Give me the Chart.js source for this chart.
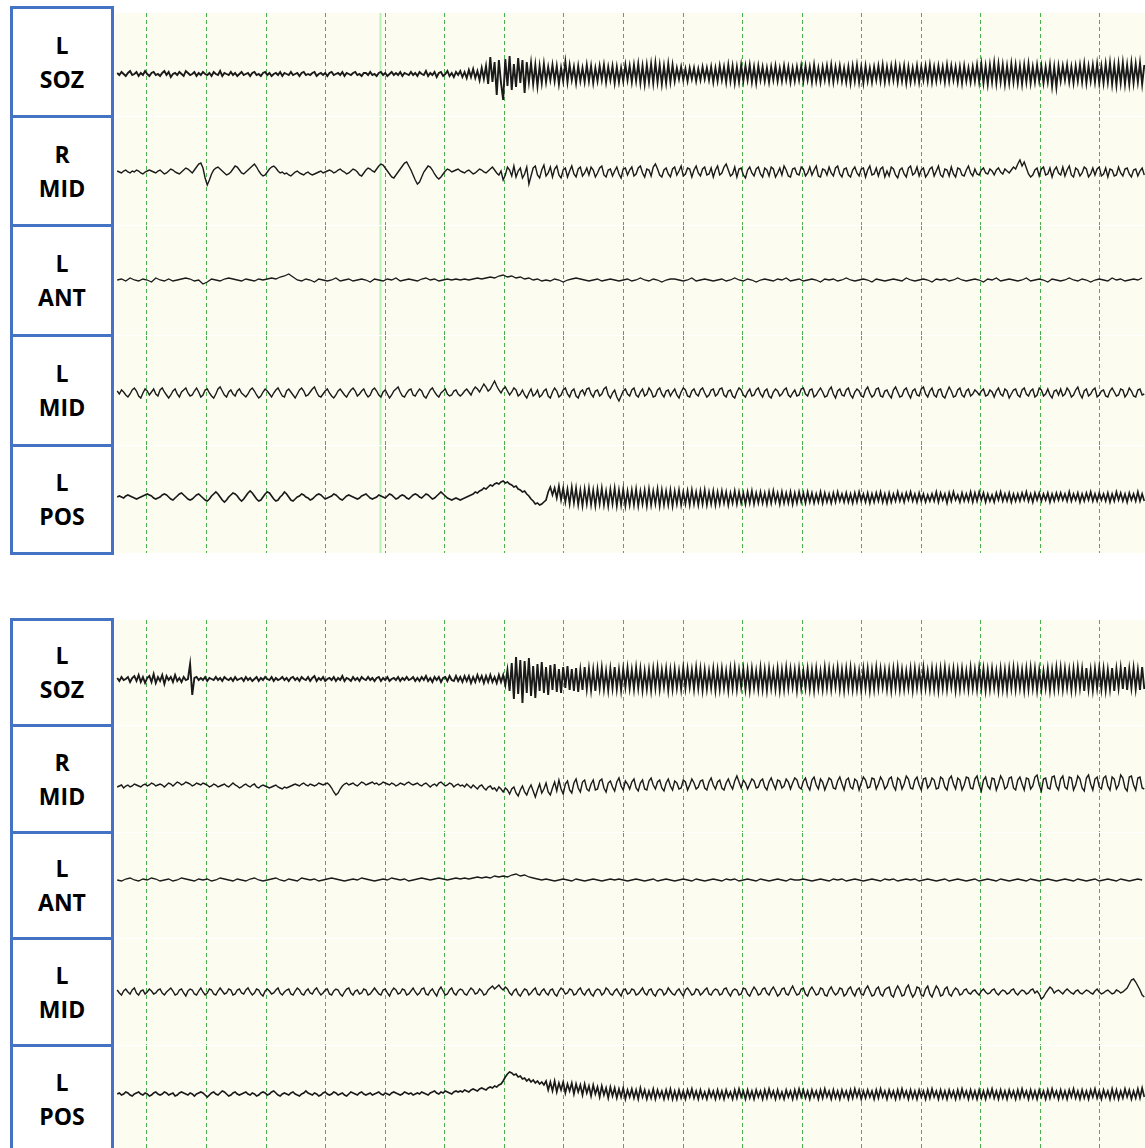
<!DOCTYPE html>
<html>
<head>
<meta charset="utf-8">
<script src="https://cdn.jsdelivr.net/npm/chart.js@4.4.1/dist/chart.umd.min.js"></script>
<style>
  body { margin: 0; background: #fff; width: 1145px; height: 1148px; overflow: hidden; position: relative; font-family: "Open Sans", sans-serif; }
  .cell { position: absolute; left: 10px; width: 104px; box-sizing: border-box; border: 3px solid #4472c4; background: #fff;
          display: flex; flex-direction: column; align-items: center; justify-content: center;
          font-weight: 700; font-size: 23px; line-height: 34px; color: #000; }
  canvas.trace { position: absolute; left: 115px; background: #fcfcf1; }
</style>
</head>
<body>
<script>
// channel names, same order in both recordings
const channels = [['L', 'SOZ'], ['R', 'MID'], ['L', 'ANT'], ['L', 'MID'], ['L', 'POS']];
const TRACE_WIDTHS = [1.9, 1.4, 1.3, 1.4, 1.7]; // pen width per channel row

// time axis (seconds), one dashed line per second
const X_MIN = 0.463;
const X_MAX = 17.756;
const GRID_SECONDS = [1, 2, 3, 4, 5, 6, 7, 8, 9, 10, 11, 12, 13, 14, 15, 16, 17];
const T_START = 0.5;
const T_SPAN = 17.28;     // every trace covers the same time, whatever its number of samples
const MARKER_TIME = 4.91; // light solid cursor line in the first recording

// first recording, amplitudes in screen units (up = positive)
const rec1SOZ = [
  1,-1,2,0,-2,1,3,-1,0,2,-2,1,-1,3,0,-2,1,2,-1,0,
  -2,1,3,-1,2,-3,0,1,-1,2,0,-2,3,1,-1,0,2,-2,1,-1,
  2,0,-1,1,-2,2,0,-1,3,-2,1,0,-1,2,-1,1,-2,0,2,-1,
  0,1,-2,1,2,-1,0,-2,1,2,-1,1,-2,0,1,-1,2,-2,1,0,
  -1,2,-1,0,1,-2,1,2,-1,0,-1,1,2,-2,0,1,-1,1,-2,1,
  2,-1,0,1,-1,2,-2,1,0,-1,1,2,-1,0,-2,1,1,-1,2,-1,
  0,-2,1,2,-1,1,-2,0,2,-1,1,-1,2,-2,1,0,-1,2,-1,1,
  -2,2,0,-1,3,-2,1,-1,2,-3,1,2,-2,0,3,-2,1,-3,2,-1,
  3,-3,2,-4,4,-3,5,-4,3,-6,6,-5,8,-10,17,-8,12,-21,14,-9,
  -26,15,-12,18,-16,10,-13,16,-9,14,-19,12,-8,11,-10,9,-12,8,-9,10,
  -8,7,-6,9,-7,8,-10,6,-7,12,-8,9,-6,7,-9,8,-7,6,-8,9,
  -7,8,-9,6,-7,8,-6,9,-8,7,-6,8,-9,7,-8,6,-7,9,-6,8,
  -8,9,-7,10,-9,8,-10,9,-8,10,-9,11,-8,9,-10,8,-9,10,-8,9,
  -7,6,-5,7,-6,5,-7,6,-5,6,-7,5,-6,7,-5,6,-6,7,-8,6,
  -7,8,-6,7,-8,9,-7,8,-9,7,-8,9,-7,8,-6,9,-8,7,-9,8,
  -6,7,-7,6,-8,7,-6,8,-7,6,-7,8,-6,7,-8,6,-7,7,-6,8,
  -7,8,-6,7,-8,9,-7,6,-8,7,-6,8,-7,9,-8,7,-6,8,-7,6,
  -8,7,-9,8,-7,9,-8,7,-9,8,-7,6,-8,7,-6,8,-7,9,-8,7,
  -7,8,-6,9,-8,7,-7,8,-9,7,-8,6,-7,8,-8,7,-6,8,-7,9,
  -8,7,-7,8,-6,7,-8,9,-7,8,-6,7,-8,7,-9,8,-7,6,-8,7,
  -7,9,-8,10,-9,8,-10,9,-8,11,-9,10,-8,9,-10,8,-9,10,-8,9,
  -9,8,-10,9,-8,10,-9,7,-8,9,-7,8,-9,7,-8,9,-12,7,-13,8,
  -7,8,-6,9,-8,7,-9,8,-7,9,-8,10,-9,8,-7,9,-8,10,-9,8,
  -9,10,-8,11,-10,9,-11,10,-9,11,-10,9,-10,11,-9,10,-8,11,-10,9
];
const rec1RMID = [
  1,0,-1,1,2,0,-1,1,0,2,1,-1,-2,0,1,2,1,0,-1,1,
  2,0,-2,-1,1,3,2,0,-1,-2,0,2,4,3,1,-1,2,5,8,9,
  4,-6,-13,-8,-2,2,4,5,3,1,-1,-3,-2,0,3,6,5,2,-1,-2,
  0,2,4,6,8,5,1,-2,-4,-3,0,3,5,6,4,1,-1,0,-2,-1,
  -3,-4,-2,0,1,-1,-2,-3,-1,0,-2,-3,-2,-1,0,1,-1,0,1,2,
  1,-1,0,2,3,1,0,-2,-1,1,3,2,0,-3,-4,-1,2,4,3,1,
  0,3,6,8,7,4,1,-2,-5,-6,-3,0,3,6,9,10,6,2,-3,-8,
  -12,-10,-5,0,3,6,5,2,-2,-5,-7,-5,-2,1,3,2,0,1,2,3,
  1,0,-1,1,2,0,-2,-1,1,3,2,0,-1,1,3,5,2,-1,-3,1,
  -8,-3,5,2,-4,6,-5,1,4,-6,-2,5,-12,-4,4,6,-3,-6,2,7,
  -4,-1,5,-5,3,6,-3,-6,2,4,-5,1,6,-2,-5,3,5,-4,-1,4,
  -3,5,2,-5,-1,4,6,-3,-5,2,3,-4,1,5,-2,-6,3,4,-3,2,
  5,-4,-2,4,6,-1,-5,3,2,-4,5,8,3,-3,-5,2,4,-2,-5,3,
  5,-3,1,6,-4,-2,4,3,-5,2,6,-1,-4,3,5,-3,-2,4,-5,2,
  6,-3,-1,5,8,2,-4,-2,5,-5,3,4,-3,-6,2,5,-1,-4,3,5,
  -2,-5,4,2,-4,5,3,-5,-1,4,-3,6,2,-4,-5,3,4,-2,-3,5,
  3,-4,-1,5,-3,2,6,-4,-5,3,2,-3,5,-1,-4,4,6,-2,-5,3,
  4,-3,-5,2,5,-1,-4,3,4,-5,2,6,-3,-2,4,-4,3,5,-5,1,
  -4,5,3,-3,-6,2,4,-2,-5,4,6,-3,-1,5,-4,2,4,-5,-2,3,
  5,-4,1,6,-3,-5,3,2,-4,5,-2,-5,4,3,-3,-4,2,6,-1,-4,
  3,-2,-3,2,4,-1,-2,3,1,-3,2,4,0,-2,3,1,-1,2,5,3,
  8,12,6,10,4,-2,-5,-3,2,4,-4,3,5,-3,-2,4,-5,2,5,-1,
  -3,5,-4,2,6,-3,-5,4,2,-4,-1,5,3,-5,-2,4,-3,3,5,-4,
  -2,4,-5,3,2,-4,-3,5,-1,-4,3,4,-2,-5,2,3,-4,1,4,-3
];
const rec1LANT = [
  0,1,-1,2,0,-1,1,0,-2,2,0,-1,1,-1,0,1,2,1,-1,0,
  -4,-2,1,0,-1,1,2,1,0,-1,1,0,-1,1,0,1,2,1,3,4,
  6,3,0,-1,1,0,-2,1,0,-1,0,2,-1,0,1,-1,0,1,0,-2,
  1,0,-1,1,0,2,-1,0,1,0,-1,1,2,0,1,-1,0,1,0,1,
  0,1,0,1,2,1,2,3,2,4,5,3,4,2,3,1,2,0,1,-1,
  0,-1,1,0,-2,0,1,2,1,0,-1,0,1,-1,0,1,0,-1,0,1,
  -1,0,2,0,-1,1,0,-2,0,1,1,0,-1,0,2,-1,0,1,0,-1,
  0,1,-1,0,2,0,-1,1,0,-2,0,1,0,-1,1,0,2,-1,0,1,
  -1,0,1,0,-2,1,0,1,-1,0,2,0,-1,0,1,0,-2,1,0,-1,
  0,1,0,-1,2,0,-1,0,1,0,-2,1,0,1,-1,0,2,0,-1,0,
  1,0,-2,1,0,2,-1,0,1,0,-1,0,2,-1,0,1,0,-2,1,0,
  -1,0,2,0,-1,1,0,-2,0,1,0,-1,2,0,1,-1,0,1,0,2
];
const rec1LMID = [
  2,-1,3,1,-2,-4,-1,3,5,2,-3,-5,0,4,2,-2,1,4,-1,-3,
  3,5,1,-2,-5,-2,2,4,-1,-4,1,3,5,0,-3,-2,2,5,1,-4,
  -2,3,4,0,-3,-5,-1,4,6,2,-2,-4,1,3,-1,-3,2,4,0,-2,
  -4,-1,3,5,2,-2,-5,-3,1,4,2,-1,-4,0,3,5,1,-3,-4,2,
  4,1,-2,-5,-1,3,5,2,-3,-2,1,4,6,1,-3,-4,-1,2,4,0,
  -3,-5,-2,2,4,1,-2,-4,0,3,5,2,-3,-1,2,4,-1,-4,-2,3,
  5,2,-2,-4,1,3,-1,-5,-2,2,4,6,1,-3,-4,0,3,4,-2,-3,
  1,4,2,-3,-5,-1,3,5,1,-2,-4,0,2,4,-1,-3,-2,2,3,-1,
  -3,-1,2,4,1,-2,3,6,4,1,5,9,6,2,4,8,12,7,3,0,
  4,6,2,-2,1,5,3,-3,-1,3,-2,-5,0,4,-3,-1,3,-4,-2,2,
  4,-3,-5,1,5,2,-4,-2,3,5,-1,-4,2,4,-3,-5,1,3,-2,4,
  5,-1,-4,2,3,-3,-1,4,6,-2,-5,0,3,-4,-8,-3,2,4,-1,-3,
  3,5,-2,-4,1,4,-3,-1,5,2,-4,-3,3,5,-1,-4,2,3,-3,1,
  4,-2,-5,1,5,3,-3,-4,2,4,-1,-3,3,5,0,-4,-2,3,4,-3,
  -1,4,5,-2,-4,2,3,-3,-5,1,5,3,-2,-4,1,4,-3,-2,3,5,
  -1,-4,2,4,-3,-5,1,4,2,-3,-1,3,5,-2,-4,0,3,-3,-2,4,
  5,-1,-3,3,4,-4,-2,2,5,1,-4,-3,3,6,-1,-5,2,4,-2,-3,
  3,5,-2,-5,1,4,2,-3,-4,3,6,0,-4,-2,4,5,-3,-4,2,3,
  -2,-5,3,6,1,-4,-3,3,5,-1,-5,2,4,-2,-3,4,6,-1,-4,2,
  5,-2,-4,3,4,-3,-5,1,6,2,-4,-3,3,5,-2,-4,2,4,-3,-1,
  3,1,-2,2,4,-3,-2,3,1,-4,2,5,-1,-3,4,2,-5,-1,3,4,
  -2,-4,3,5,-1,-3,2,4,-4,-2,5,3,-3,-1,4,-2,-5,2,3,-2,
  4,-3,-1,5,2,-4,-2,3,6,-1,-5,2,4,-3,-1,3,5,-4,-2,2,
  3,-3,-4,2,5,1,-3,-2,4,3,-4,-1,5,2,-3,-4,3,4,-2,-1
];
const rec1LPOS = [
  0,1,0,-1,1,2,1,0,-1,-2,-1,0,1,2,3,2,1,-1,-2,-1,
  0,2,3,2,0,-2,-3,-1,1,3,4,2,0,-2,-3,-2,0,2,3,1,
  -1,-3,-4,-2,1,3,5,3,0,-3,-5,-3,0,2,4,3,1,-2,-4,-2,
  1,4,6,4,1,-2,-4,-3,0,3,5,4,1,-2,-4,-3,0,2,5,3,
  0,-3,-4,-2,0,1,3,2,0,-1,-3,-2,0,2,3,2,0,-2,-1,0,
  1,3,2,0,-2,-3,-1,1,2,1,0,-1,-2,-1,1,2,3,1,-1,-2,
  -1,0,2,1,0,-1,1,3,2,0,-2,-1,1,2,1,-1,-2,0,2,3,
  2,0,-1,1,3,2,0,-2,-1,1,3,5,3,1,-1,-2,-3,-2,-1,-2,
  -3,-2,-1,0,1,2,3,5,4,6,7,9,8,10,12,11,13,14,13,15,
  16,14,15,13,12,10,11,8,7,5,6,3,1,-2,-4,-7,-6,-8,-7,-5,
  -3,5,10,2,9,-1,11,-3,9,-5,8,-7,10,-6,9,-8,7,-9,8,-7,
  9,-8,7,-9,8,-7,9,-8,6,-9,8,-7,9,-9,7,-8,8,-9,6,-8,
  7,-8,8,-9,6,-7,7,-9,8,-8,6,-7,8,-9,7,-8,6,-8,7,-9,
  6,-7,7,-8,5,-7,6,-8,7,-7,5,-8,6,-7,7,-8,5,-7,6,-8,
  5,-7,6,-6,5,-8,4,-6,6,-7,5,-6,4,-7,5,-6,6,-7,4,-6,
  5,-6,4,-7,5,-6,6,-5,4,-7,5,-6,4,-6,5,-7,4,-6,5,-5,
  4,-6,5,-5,4,-6,3,-5,5,-6,4,-5,3,-6,4,-5,5,-4,3,-5,
  4,-5,3,-6,4,-5,5,-4,3,-5,4,-6,3,-5,4,-4,5,-5,3,-6,
  4,-5,3,-4,5,-4,3,-5,4,-3,5,-4,3,-5,4,-4,3,-5,2,-4,
  3,-4,5,-5,4,-3,3,-6,4,-4,5,-3,2,-5,4,-4,3,-4,5,-5,
  4,-4,5,-3,4,-5,3,-4,2,-5,4,-3,5,-4,3,-4,4,-5,3,-4,
  3,-4,4,-3,5,-4,3,-5,4,-3,4,-4,3,-3,4,-5,3,-4,4,-3,
  4,-3,3,-4,5,-4,3,-3,4,-5,3,-4,4,-3,5,-4,3,-4,4,-3,
  3,-4,4,-5,3,-4,5,-3,4,-4,3,-5,4,-3,3,-4,5,-4,3,-4
];

// second recording
const rec2SOZ = [
  1,-2,2,-1,0,2,-3,1,3,-2,4,-3,2,-4,1,3,-3,5,-4,2,
  -2,4,-5,3,-1,2,-3,4,-2,1,-3,2,-1,0,15,-16,1,2,-1,1,
  -1,2,-2,1,0,-1,2,-1,1,-2,2,0,-1,1,-2,2,-1,0,1,-2,
  2,-1,1,-2,0,2,-2,1,-1,2,0,-1,2,-2,1,-1,0,2,-1,1,
  -2,1,2,-1,1,-2,2,0,-1,2,-2,1,3,-2,1,-1,2,-2,0,1,
  -1,2,-2,1,-1,3,-2,1,0,-2,2,-1,1,-2,2,0,-1,2,-1,1,
  -2,1,2,-2,1,-1,2,-2,0,1,-1,2,-2,1,-1,2,-1,0,2,-2,
  1,-2,2,-1,3,-2,1,-3,2,-1,2,-3,1,2,-2,3,-1,-2,3,-2,
  2,-3,3,-2,3,-4,2,-3,4,-2,3,-4,3,-3,4,-3,2,-4,4,-3,
  4,-6,9,-12,16,-20,22,-15,19,-24,18,-14,21,-17,13,-19,15,-12,17,-14,
  12,-16,14,-11,15,-13,10,-14,12,-9,13,-11,10,-12,11,-13,9,-11,12,-10,
  10,-11,9,-12,10,-9,11,-10,8,-11,10,-9,12,-10,9,-11,10,-8,11,-9,
  9,-10,11,-9,10,-11,8,-10,9,-11,10,-9,11,-10,9,-8,10,-11,9,-10,
  10,-9,8,-10,11,-9,10,-8,9,-10,11,-9,10,-11,9,-10,8,-9,10,-11,
  9,-10,10,-9,8,-11,10,-9,11,-10,9,-8,10,-10,9,-11,10,-9,8,-10,
  11,-10,9,-11,10,-9,8,-10,10,-11,9,-10,11,-9,10,-8,9,-11,10,-9,
  8,-9,10,-10,9,-11,10,-9,8,-10,11,-9,10,-10,9,-8,11,-10,9,-11,
  10,-9,11,-10,9,-10,8,-11,10,-9,10,-11,9,-10,11,-9,10,-8,9,-10,
  9,-11,10,-9,11,-10,9,-10,8,-9,10,-11,10,-9,9,-10,11,-9,8,-10,
  10,-10,9,-11,10,-9,11,-10,9,-8,10,-11,9,-10,10,-9,8,-10,11,-9,
  9,-10,11,-9,10,-11,9,-10,10,-9,8,-11,10,-10,9,-11,10,-9,11,-10,
  10,-9,9,-11,10,-10,11,-9,10,-11,9,-10,8,-9,10,-11,9,-10,11,-9,
  11,-10,10,-9,9,-11,10,-10,11,-9,10,-12,11,-10,9,-11,10,-9,11,-10,
  10,-11,9,-10,11,-12,10,-9,11,-10,12,-11,10,-9,11,-10,9,-11,12,-10
];
const rec2RMID = [
  -1,0,1,-2,0,1,-1,0,2,1,0,-1,1,2,0,1,3,2,0,1,
  2,1,-1,1,3,2,0,2,4,3,1,2,4,3,2,0,1,3,2,1,
  3,2,1,-1,0,2,1,-1,0,1,2,0,-1,1,3,1,0,-2,-1,1,
  2,0,-1,1,2,-1,-2,0,1,0,-1,-2,-1,0,1,-1,-2,-3,-1,-2,
  -1,0,1,2,1,0,2,3,1,0,2,1,0,1,3,2,1,2,3,1,
  -2,-6,-9,-7,-3,0,2,3,1,2,3,1,0,2,4,3,1,2,3,4,
  2,3,1,2,4,3,2,1,3,2,0,1,3,2,1,3,4,2,1,2,
  3,1,0,2,3,1,-1,1,2,0,3,4,2,0,1,3,2,-1,1,2,
  0,1,-1,2,0,-2,1,-1,-3,0,1,-2,-4,-1,0,-3,-2,-5,-1,-3,
  -6,-2,-4,-8,-3,-1,-7,-10,-4,0,-6,-9,-3,1,-5,-11,-4,2,-7,-3,
  3,-6,-9,-2,4,-5,6,-3,-8,2,5,-4,-7,3,7,-2,-6,4,6,-3,
  -5,2,6,-4,-3,5,7,-2,-6,3,5,-1,-5,4,8,0,-4,5,2,-3,
  4,7,-2,-5,3,6,-3,-4,5,8,1,-3,4,6,-2,-5,3,7,0,-4,
  5,3,-3,-2,6,4,-4,1,7,3,-3,-1,5,6,-2,-4,4,8,1,-3,
  4,6,-2,-4,3,7,1,-3,5,10,4,-2,6,3,-3,2,7,5,-2,-1,
  5,7,-1,-4,4,8,2,-3,6,5,-2,0,7,4,-3,3,8,6,-1,-3,
  5,8,0,-4,6,9,1,-3,7,4,-4,2,8,6,-2,-3,5,9,2,-4,
  6,8,-1,-3,7,5,-4,3,9,6,-2,-1,8,7,-3,2,9,5,-3,0,
  7,9,0,-4,8,6,-3,2,10,7,-2,-3,6,9,1,-4,7,8,-2,1,
  8,6,-3,-2,9,7,-1,-4,7,10,2,-3,8,6,-4,1,9,8,-2,-3,
  7,10,1,-5,6,9,0,-3,8,7,-4,2,10,6,-3,-1,8,9,-2,-4,
  6,9,2,-4,8,7,-3,0,9,11,1,-5,7,8,-2,-3,9,10,0,-4,
  7,10,-1,-3,9,8,-4,1,10,7,-2,-5,8,11,2,-4,7,9,-1,-3,
  8,10,0,-4,9,7,-3,1,11,8,-2,-5,9,10,1,-4,8,9,-2,-3
];
const rec2LANT = [
  0,-1,1,2,0,-1,1,0,2,1,-1,0,1,-1,0,2,1,0,-1,1,
  0,1,-1,0,2,1,0,-1,1,0,-1,1,2,0,-1,0,1,2,0,-1,
  1,0,-1,2,1,0,1,-1,0,1,2,1,0,-1,0,1,0,2,1,0,
  -1,0,1,0,2,1,0,1,-1,0,1,2,1,0,1,2,1,0,1,2,
  1,2,1,2,3,2,3,2,4,3,4,3,5,6,4,5,3,2,1,0,
  1,0,-1,0,1,0,-1,1,0,-1,0,1,0,-1,0,1,0,1,0,-1,
  0,1,0,-1,0,1,-1,0,1,0,-1,0,1,0,-1,1,0,-1,0,1,
  0,-1,1,0,1,-1,0,1,0,-1,1,0,-1,0,1,0,-1,1,0,0,
  1,0,-1,0,1,0,-1,1,0,1,-1,0,1,0,-1,0,1,0,-1,1,
  0,1,-1,0,1,0,1,-1,0,1,0,-1,0,1,-1,0,1,0,-1,0,
  1,-1,0,1,0,-1,1,0,-1,0,1,0,-1,1,0,-1,0,1,0,-1,
  0,1,0,-1,1,0,-1,0,1,-1,0,1,0,-1,1,0,-1,0,1,0
];
const rec2LMID = [
  2,-1,-3,1,3,0,-2,2,4,-1,-3,1,2,-2,0,3,1,-2,-1,2,
  3,-1,-3,0,2,4,1,-3,-2,2,3,-1,-4,1,3,2,-2,-3,1,4,
  0,-3,-1,3,2,-2,-3,1,4,1,-2,-1,3,2,-3,-2,2,3,-1,-2,
  2,4,0,-3,-1,3,2,-2,-4,1,3,1,-2,-1,2,4,-1,-3,0,2,
  3,-2,-3,1,4,2,-2,-3,1,3,-1,-2,2,4,0,-3,-1,2,3,-2,
  -3,1,3,2,-2,-4,0,3,4,-1,-3,1,2,-2,-1,3,2,-3,-2,1,
  4,1,-2,-3,2,3,-1,-4,1,4,2,-2,-1,3,2,-3,-2,1,4,0,
  -3,-1,3,4,-2,-3,1,3,-1,-4,2,5,1,-3,-2,2,4,-1,-3,1,
  3,2,-2,-3,1,4,2,-2,-1,3,1,-3,-2,2,4,6,3,5,7,4,
  2,5,3,-1,-3,1,3,-2,-4,0,3,2,-3,-1,2,4,-2,-3,1,3,
  -1,-3,2,3,-2,-4,1,4,2,-2,-1,3,2,-3,-2,2,4,-1,-3,1,
  3,-2,-4,1,3,2,-3,-1,4,2,-2,-3,1,3,-1,-4,2,3,-2,-1,
  3,2,-3,-2,1,4,-1,-3,2,3,-2,-4,1,3,2,-3,-1,4,1,-2,
  -3,1,3,-1,-4,2,4,1,-3,-2,3,2,-3,-1,2,4,-2,-3,1,3,
  2,-3,-2,3,4,-1,-4,1,3,2,-3,-2,4,3,-2,-4,1,5,2,-3,
  -2,3,4,-1,-3,2,5,1,-4,-2,3,4,-2,-3,2,6,1,-3,-2,3,
  4,-2,-4,2,5,1,-3,-2,4,3,-3,-4,2,5,0,-3,-1,4,3,-4,
  -2,3,5,-1,-4,2,4,-2,-3,3,6,1,-4,-3,3,5,-2,-4,2,4,
  5,-3,-5,2,6,2,-4,-3,4,7,0,-5,-2,5,4,-3,-4,3,6,-2,
  -5,1,6,3,-4,-3,3,5,-2,-4,1,4,2,-3,-2,2,3,-1,-2,1,
  2,-1,-3,1,3,0,-2,-1,2,3,-1,-3,0,2,1,-2,-1,2,3,-1,
  -3,0,2,1,-2,-1,2,3,-1,1,-2,-7,-5,-1,2,5,3,-1,1,2,
  0,-2,1,3,1,-1,-2,1,2,-1,-2,0,2,1,-1,-2,1,3,0,-2,
  -1,1,2,0,-2,-1,2,1,-1,0,2,4,8,12,13,10,6,2,-3,-5
];
const rec2LPOS = [
  0,1,-1,0,2,1,-1,-2,0,1,2,0,-1,1,0,-2,-1,1,2,0,
  -1,0,2,1,-1,0,1,-2,-1,1,2,1,0,-1,1,0,-2,0,1,2,
  1,-1,-3,-1,1,2,0,-1,1,3,2,0,-2,-1,1,2,0,-1,0,1,
  2,0,-1,1,0,-2,-1,1,2,1,-1,0,2,3,1,-1,-2,0,1,0,
  -1,1,2,0,-1,-2,0,1,3,1,0,-1,1,0,-2,-1,1,2,0,-1,
  0,2,1,-1,0,1,-1,-2,0,2,1,0,-1,1,2,0,-1,0,1,-1,
  0,1,2,0,-1,1,0,-1,1,2,1,0,-1,0,2,1,0,1,-1,0,
  1,0,2,1,0,-1,1,2,3,1,0,2,1,3,2,1,0,2,3,2,
  3,2,4,3,2,4,5,4,3,5,6,5,4,6,7,6,8,7,9,10,
  13,17,20,22,21,19,20,17,18,15,16,13,15,12,14,11,13,10,12,9,
  13,4,12,3,13,2,11,4,12,1,10,3,11,0,10,2,9,-1,10,1,
  8,-2,9,0,7,-3,8,-1,6,-4,7,-2,6,-4,5,-3,6,-5,4,-3,
  5,-4,4,-5,6,-3,4,-5,3,-4,5,-5,4,-3,3,-5,4,-4,5,-5,
  3,-5,4,-4,3,-5,4,-3,5,-4,3,-5,4,-4,2,-5,4,-3,3,-5,
  4,-4,3,-5,4,-3,2,-5,4,-4,5,-3,3,-5,4,-4,3,-5,4,-3,
  3,-5,4,-4,5,-3,3,-5,4,-4,2,-5,4,-3,3,-5,4,-4,5,-3,
  4,-4,3,-5,4,-3,3,-5,4,-4,5,-3,3,-5,4,-4,3,-5,4,-3,
  3,-5,4,-4,5,-3,4,-5,3,-4,4,-3,3,-5,4,-4,5,-3,3,-5,
  4,-3,3,-5,4,-4,5,-3,3,-5,4,-4,3,-5,4,-3,3,-5,4,-4,
  5,-3,3,-5,4,-4,3,-5,4,-3,3,-5,4,-4,5,-3,3,-5,4,-4,
  3,-5,4,-4,3,-5,4,-3,5,-4,3,-5,4,-4,3,-5,4,-3,3,-5,
  4,-4,5,-3,3,-5,4,-4,3,-5,4,-3,3,-5,4,-4,5,-3,3,-5,
  4,-4,3,-5,4,-3,5,-4,3,-5,4,-4,3,-5,4,-3,5,-4,3,-5,
  4,-3,3,-5,5,-4,4,-5,3,-4,5,-3,4,-5,3,-4,5,-4,6,-3
];

// page layout of the two recordings (pixels)
const panels = [
  { labelEdges: [7, 116, 225, 335, 445, 553], rowEdges: [13, 116, 225, 335, 445, 553],
    baselines: [74, 172, 280, 393, 497], marker: true,
    series: [rec1SOZ, rec1RMID, rec1LANT, rec1LMID, rec1LPOS] },
  { labelEdges: [619, 725, 832, 938, 1045, 1153], rowEdges: [620, 725, 832, 938, 1045, 1148],
    baselines: [679, 786, 880, 992, 1094], marker: false,
    series: [rec2SOZ, rec2RMID, rec2LANT, rec2LMID, rec2LPOS] }
];

const markerPlugin = {
  id: 'marker',
  beforeDatasetsDraw(chart) {
    const { ctx, chartArea, scales } = chart;
    const x = Math.round(scales.x.getPixelForValue(MARKER_TIME)) + 0.5;
    ctx.save();
    ctx.strokeStyle = '#b8f2b8';
    ctx.lineWidth = 2;
    ctx.beginPath();
    ctx.moveTo(x, chartArea.top);
    ctx.lineTo(x, chartArea.bottom);
    ctx.stroke();
    ctx.restore();
  }
};

function makeTrace(top, height, values, baseline, width, withMarker) {
  const canvas = document.createElement('canvas');
  canvas.className = 'trace';
  canvas.width = 1030;
  canvas.height = height;
  canvas.style.top = top + 'px';
  document.body.appendChild(canvas);

  const dt = T_SPAN / values.length;
  const yMax = baseline - top;
  new Chart(canvas.getContext('2d'), {
    type: 'line',
    data: {
      datasets: [{
        data: values.map((v, i) => ({ x: T_START + i * dt, y: v })),
        borderColor: '#1a1a1a',
        borderWidth: width,
        pointRadius: 0,
        tension: 0
      }]
    },
    options: {
      responsive: false,
      animation: false,
      events: [],
      layout: { padding: 0 },
      plugins: { legend: { display: false }, tooltip: { enabled: false } },
      scales: {
        x: {
          type: 'linear', min: X_MIN, max: X_MAX,
          ticks: { display: false },
          afterBuildTicks: axis => { axis.ticks = GRID_SECONDS.map(s => ({ value: s })); },
          grid: { color: '#4caf50', lineWidth: 1, drawTicks: false },
          border: { display: false, dash: [4, 3] }
        },
        y: { display: false, min: yMax - height, max: yMax }
      }
    },
    plugins: withMarker ? [markerPlugin] : []
  });
}

panels.forEach(p => {
  channels.forEach((name, i) => {
    const cell = document.createElement('div');
    cell.className = 'cell';
    const y0 = p.labelEdges[i], y1 = p.labelEdges[i + 1];
    cell.style.top = (y0 - 1.5) + 'px';
    cell.style.height = (y1 - y0 + 3) + 'px';
    cell.innerHTML = '<div>' + name[0] + '</div><div>' + name[1] + '</div>';
    document.body.appendChild(cell);

    const top = p.rowEdges[i] + (i > 0 ? 1 : 0);
    const height = p.rowEdges[i + 1] - top;
    makeTrace(top, height, p.series[i], p.baselines[i], TRACE_WIDTHS[i], p.marker);
  });
});
</script>
</body>
</html>
